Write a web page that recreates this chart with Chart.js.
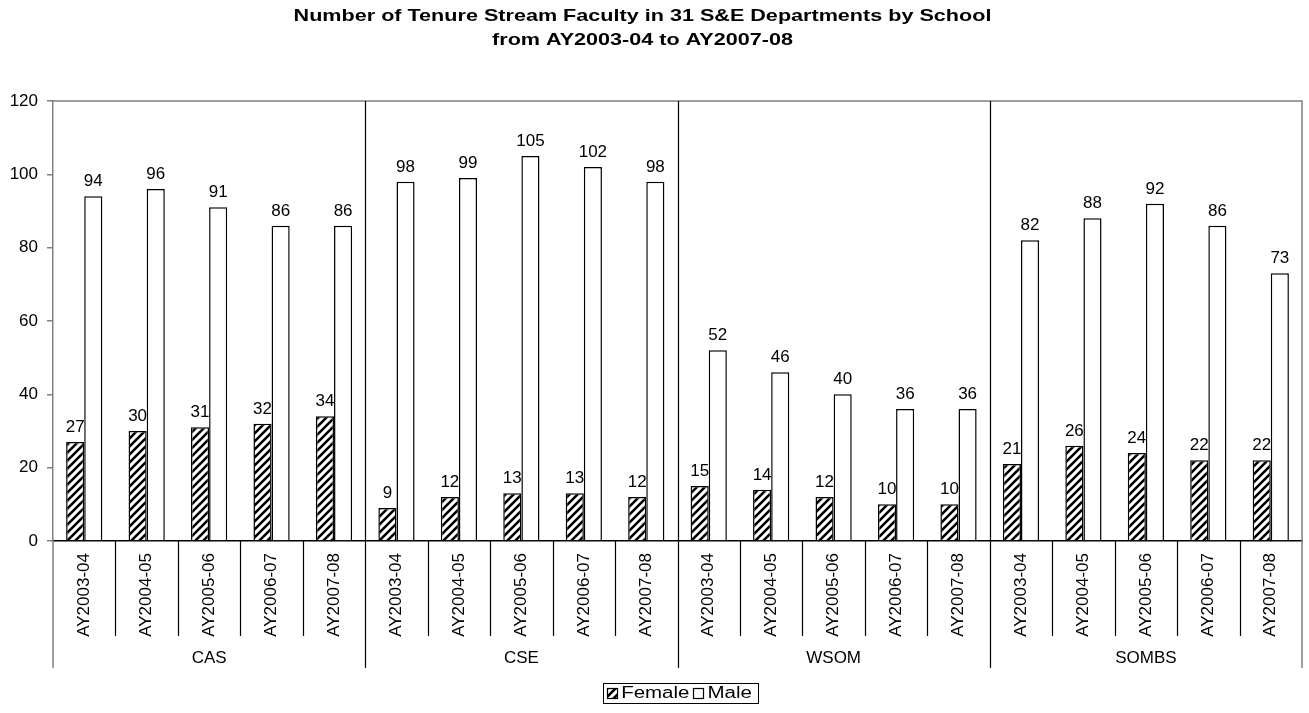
<!DOCTYPE html>
<html><head><meta charset="utf-8">
<script src="https://cdn.jsdelivr.net/npm/chart.js@4"></script>
<style>html,body{margin:0;padding:0;background:#fff}#wrap{width:1309px;height:713px;position:relative}</style>
</head><body><div id="wrap"><canvas id="c"></canvas></div>
<script>
const schools = ['CAS', 'CSE', 'WSOM', 'SOMBS'];
const years = ['AY2003-04', 'AY2004-05', 'AY2005-06', 'AY2006-07', 'AY2007-08'];
const female = [27, 30, 31, 32, 34, 9, 12, 13, 13, 12, 15, 14, 12, 10, 10, 21, 26, 24, 22, 22];
const male = [94, 96, 91, 86, 86, 98, 99, 105, 102, 98, 52, 46, 40, 36, 36, 82, 88, 92, 86, 73];
const seriesNames = ['Female', 'Male'];
const yMin = 0, yMax = 120, yStep = 20;
const titleLines = ['Number of Tenure Stream Faculty in 31 S&E Departments by School', 'from AY2003-04 to AY2007-08'];

const FONT = "'Liberation Sans', Arial, sans-serif";
const labels = [];
const groupOf = [];
schools.forEach(s => years.forEach(y => { labels.push(y); groupOf.push(s); }));

function hatchPattern() {
  const s = 8, c = document.createElement('canvas');
  c.width = s; c.height = s;
  const g = c.getContext('2d');
  g.fillStyle = '#fff'; g.fillRect(0, 0, s, s);
  g.strokeStyle = '#000'; g.lineWidth = 2.6; g.lineCap = 'square';
  g.beginPath();
  g.moveTo(-2, s + 2); g.lineTo(s + 2, -2);
  g.moveTo(-2, 2); g.lineTo(2, -2);
  g.moveTo(s - 2, s + 2); g.lineTo(s + 2, s - 2);
  g.stroke();
  return g.createPattern(c, 'repeat');
}
const hatch = hatchPattern();

// draw text horizontally stretched by factor sx, anchored by align
function stretchedText(ctx, text, x, y, sx, align) {
  const w = ctx.measureText(text).width * sx;
  let left = x;
  if (align === 'center') left = x - w / 2;
  else if (align === 'right') left = x - w;
  ctx.save();
  ctx.textAlign = 'left';
  ctx.translate(left, y);
  ctx.scale(sx, 1);
  ctx.fillText(text, 0, 0);
  ctx.restore();
  return w;
}

const decor = {
  id: 'decor',
  afterDatasetsDraw(chart) {
    const ctx = chart.ctx, ca = chart.chartArea, xs = chart.scales.x;
    const ext1 = 95, ext2 = 127;
    ctx.save();
    // title
    ctx.fillStyle = '#000'; ctx.font = 'bold 17px ' + FONT; ctx.textBaseline = 'alphabetic';
    const tcx = chart.width / 2 - 12;
    stretchedText(ctx, titleLines[0], tcx, 21, 1.27, 'center');
    stretchedText(ctx, titleLines[1], tcx, 45, 1.27, 'center');
    // plot border top/right
    ctx.strokeStyle = '#808080'; ctx.lineWidth = 1.5;
    ctx.beginPath();
    ctx.moveTo(ca.left, ca.top); ctx.lineTo(ca.right, ca.top);
    ctx.lineTo(ca.right, ca.bottom + ext2);
    ctx.moveTo(ca.left, ca.bottom); ctx.lineTo(ca.left, ca.bottom + ext2);
    ctx.stroke();
    // separators
    ctx.strokeStyle = '#000'; ctx.lineWidth = 1.2;
    for (let i = 1; i < labels.length; i++) {
      const bx = Math.round((xs.getPixelForValue(i - 1) + xs.getPixelForValue(i)) / 2) + 0.5;
      const isGroup = groupOf[i] !== groupOf[i - 1];
      ctx.beginPath();
      if (isGroup) { ctx.moveTo(bx, ca.top); ctx.lineTo(bx, ca.bottom + ext2); }
      else { ctx.moveTo(bx, ca.bottom); ctx.lineTo(bx, ca.bottom + ext1); }
      ctx.stroke();
    }
    // group labels
    ctx.fillStyle = '#000'; ctx.font = '17px ' + FONT;
    ctx.textAlign = 'center'; ctx.textBaseline = 'middle';
    schools.forEach((s, gi) => {
      const a = gi * years.length, b = a + years.length - 1;
      const cx = (xs.getPixelForValue(a) + xs.getPixelForValue(b)) / 2;
      ctx.fillText(s, cx, ca.bottom + 117);
    });
    // data labels
    ctx.textBaseline = 'alphabetic';
    chart.data.datasets.forEach((ds, di) => {
      const meta = chart.getDatasetMeta(di);
      meta.data.forEach((el, i) => {
        ctx.fillText(String(ds.data[i]), el.x, el.y - 10);
      });
    });
    // legend
    ctx.font = '16px ' + FONT;
    const lsx = 1.28;
    const sw = 10, gap = 4, itemGap = 4, padL = 4, padR = 6;
    const widths = seriesNames.map(n => ctx.measureText(n).width * lsx);
    const total = padL + padR + widths.reduce((a, w) => a + sw + gap + w, 0) + itemGap * (seriesNames.length - 1);
    const lx = (chart.width - total) / 2 + 26, ly = ca.bottom + 142, lh = 20;
    ctx.strokeStyle = '#000'; ctx.lineWidth = 1;
    ctx.strokeRect(Math.round(lx) + 0.5, Math.round(ly) + 0.5, Math.round(total), lh);
    let x = lx + padL;
    seriesNames.forEach((n, i) => {
      const ds = chart.data.datasets[i];
      ctx.fillStyle = ds.backgroundColor;
      const sy = Math.round(ly + (lh - sw) / 2) + 0.5;
      ctx.fillRect(Math.round(x) + 0.5, sy, sw, sw);
      ctx.strokeStyle = '#000'; ctx.lineWidth = 1.2;
      ctx.strokeRect(Math.round(x) + 0.5, sy, sw, sw);
      x += sw + gap;
      ctx.fillStyle = '#000'; ctx.textBaseline = 'middle';
      stretchedText(ctx, n, x, ly + lh / 2 + 1, lsx, 'left');
      x += widths[i] + itemGap;
    });
    ctx.restore();
  }
};

new Chart(document.getElementById('c'), {
  type: 'bar',
  data: {
    labels: labels,
    datasets: [
      { label: seriesNames[0], data: female, backgroundColor: hatch, borderColor: '#000', borderWidth: 1.5, categoryPercentage: 0.58, barPercentage: 1.0 },
      { label: seriesNames[1], data: male, backgroundColor: '#ffffff', borderColor: '#000', borderWidth: 1.5, categoryPercentage: 0.58, barPercentage: 1.0 }
    ]
  },
  options: {
    responsive: true, maintainAspectRatio: false, animation: false,
    layout: { padding: { left: 0, right: 7, top: 101, bottom: 0 } },
    plugins: {
      legend: { display: false },
      tooltip: { enabled: false },
      title: { display: false }
    },
    scales: {
      x: {
        offset: true,
        grid: { display: false, drawTicks: false },
        border: { display: true, color: '#000', width: 1.5 },
        ticks: { color: '#000', font: { family: FONT, size: 17 }, minRotation: 90, maxRotation: 90, autoSkip: false, padding: 12 },
        afterFit(s) { s.height = 172; }
      },
      y: {
        min: yMin, max: yMax,
        grid: { drawOnChartArea: false, color: '#808080', tickLength: 6, lineWidth: 1.5 },
        border: { display: true, color: '#808080', width: 1.5 },
        ticks: { stepSize: yStep, color: '#000', font: { family: FONT, size: 17 }, padding: 9 },
        afterFit(s) { s.width = 53; }
      }
    }
  },
  plugins: [decor]
});
</script>
</body></html>
